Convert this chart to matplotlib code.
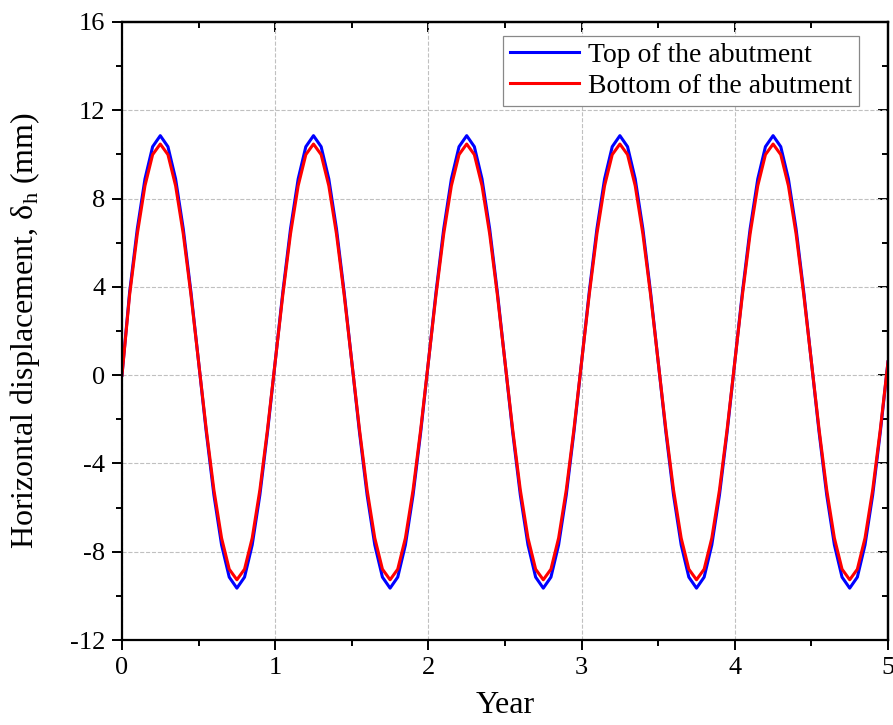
import matplotlib
matplotlib.use('Agg')
import matplotlib.pyplot as plt
from matplotlib.ticker import MultipleLocator
import numpy as np

plt.rcParams['font.family'] = ['Liberation Serif', 'DejaVu Serif']
plt.rcParams['mathtext.fontset'] = 'custom'
plt.rcParams['mathtext.rm'] = 'Liberation Serif'
plt.rcParams['axes.unicode_minus'] = False

# time in years, sampled every 0.05 yr
year = np.round(np.arange(101) * 0.05, 2)

top = [0.0, 3.77, 6.63, 8.89, 10.35, 10.85, 10.35, 8.89, 6.63, 3.77,
       0.6, -2.57, -5.43, -7.69, -9.15, -9.65, -9.15, -7.69, -5.43, -2.57,
       0.6, 3.77, 6.63, 8.89, 10.35, 10.85, 10.35, 8.89, 6.63, 3.77,
       0.6, -2.57, -5.43, -7.69, -9.15, -9.65, -9.15, -7.69, -5.43, -2.57,
       0.6, 3.77, 6.63, 8.89, 10.35, 10.85, 10.35, 8.89, 6.63, 3.77,
       0.6, -2.57, -5.43, -7.69, -9.15, -9.65, -9.15, -7.69, -5.43, -2.57,
       0.6, 3.77, 6.63, 8.89, 10.35, 10.85, 10.35, 8.89, 6.63, 3.77,
       0.6, -2.57, -5.43, -7.69, -9.15, -9.65, -9.15, -7.69, -5.43, -2.57,
       0.6, 3.77, 6.63, 8.89, 10.35, 10.85, 10.35, 8.89, 6.63, 3.77,
       0.6, -2.57, -5.43, -7.69, -9.15, -9.65, -9.15, -7.69, -5.43, -2.57,
       0.6]

bottom = [0.0, 3.65, 6.40, 8.58, 9.99, 10.47, 9.99, 8.58, 6.40, 3.65,
          0.6, -2.45, -5.20, -7.38, -8.79, -9.27, -8.79, -7.38, -5.20, -2.45,
          0.6, 3.65, 6.40, 8.58, 9.99, 10.47, 9.99, 8.58, 6.40, 3.65,
          0.6, -2.45, -5.20, -7.38, -8.79, -9.27, -8.79, -7.38, -5.20, -2.45,
          0.6, 3.65, 6.40, 8.58, 9.99, 10.47, 9.99, 8.58, 6.40, 3.65,
          0.6, -2.45, -5.20, -7.38, -8.79, -9.27, -8.79, -7.38, -5.20, -2.45,
          0.6, 3.65, 6.40, 8.58, 9.99, 10.47, 9.99, 8.58, 6.40, 3.65,
          0.6, -2.45, -5.20, -7.38, -8.79, -9.27, -8.79, -7.38, -5.20, -2.45,
          0.6, 3.65, 6.40, 8.58, 9.99, 10.47, 9.99, 8.58, 6.40, 3.65,
          0.6, -2.45, -5.20, -7.38, -8.79, -9.27, -8.79, -7.38, -5.20, -2.45,
          0.6]

fig = plt.figure(figsize=(8.93, 7.25), dpi=100)
ax = fig.add_axes([0.1366, 0.1172, 0.8578, 0.8525])

ax.plot(year, top, color='#0000ff', lw=2.2, label='Top of the abutment')
ax.plot(year, bottom, color='#ff0000', lw=2.2, label='Bottom of the abutment')

ax.set_xlim(0, 5)
ax.set_ylim(-12, 16)
ax.xaxis.set_major_locator(MultipleLocator(1))
ax.xaxis.set_minor_locator(MultipleLocator(0.5))
ax.yaxis.set_major_locator(MultipleLocator(4))
ax.yaxis.set_minor_locator(MultipleLocator(2))

ax.grid(True, which='major', color='#c0c0c0', ls='--', lw=0.8)
ax.set_axisbelow(True)

for s in ax.spines.values():
    s.set_linewidth(1.6)

ax.tick_params(which='both', left=True, bottom=True, direction='out', width=1.4, labelsize=19)
ax.tick_params(which='major', length=7, pad=5)
ax.tick_params(which='minor', length=4)

# mirrored ticks on top and right, pointing in
axt = ax.secondary_xaxis('top')
axt.xaxis.set_major_locator(MultipleLocator(1))
axt.xaxis.set_minor_locator(MultipleLocator(0.5))
axt.tick_params(which='both', direction='in', width=1.4, labeltop=False)
axt.tick_params(which='major', length=7)
axt.tick_params(which='minor', length=4)
axr = ax.secondary_yaxis('right')
axr.yaxis.set_major_locator(MultipleLocator(4))
axr.yaxis.set_minor_locator(MultipleLocator(2))
axr.tick_params(which='both', direction='in', width=1.4, labelright=False)
axr.tick_params(which='major', length=7)
axr.tick_params(which='minor', length=4)
for a in (axt, axr):
    for s in a.spines.values():
        s.set_linewidth(1.6)

ax.set_xlabel('Year', fontsize=23, labelpad=9)
ax.set_ylabel('Horizontal displacement, δ$_\\mathrm{h}$ (mm)', fontsize=23, labelpad=20)

leg = ax.legend(loc='upper right', fontsize=20, frameon=True, fancybox=False,
                edgecolor='#888888', framealpha=1, handlelength=2.5,
                borderpad=0.25, labelspacing=0.2, handletextpad=0.3,
                borderaxespad=0, bbox_to_anchor=(0.962, 0.978))
leg.get_frame().set_linewidth(0.9)

fig.savefig('out.png', dpi=100)
